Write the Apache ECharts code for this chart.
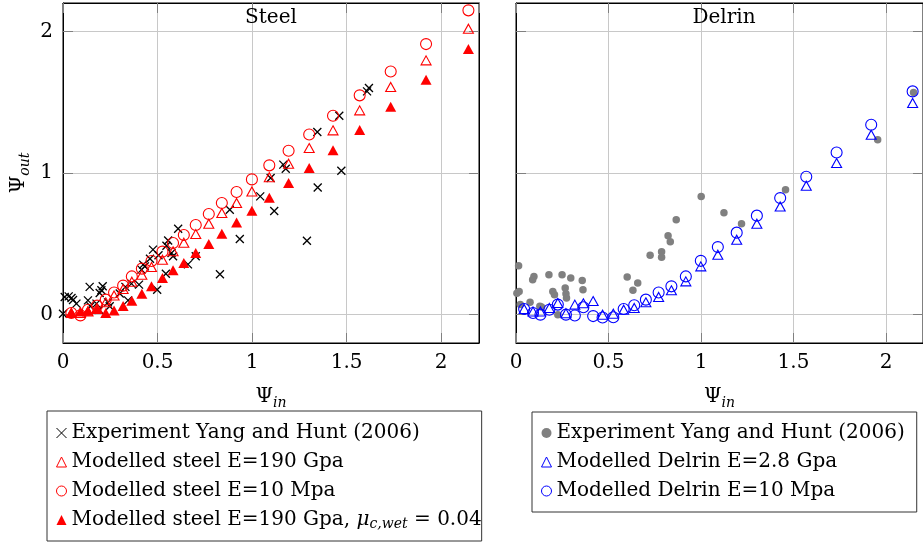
<!DOCTYPE html>
<html>
<head>
<meta charset="utf-8">
<script src="https://cdn.jsdelivr.net/npm/echarts@6/dist/echarts.min.js"></script>
<style>
  html, body { margin: 0; padding: 0; background: #fff; }
  #chart { width: 923px; height: 542px; }
</style>
</head>
<body>
<div id="chart"></div>
<script>
// Psi_in values shared by the modelled series (both materials)
var psiIn = [0.044, 0.092, 0.132, 0.180, 0.226, 0.270, 0.318, 0.364, 0.417, 0.468, 0.526, 0.582, 0.639,
             0.702, 0.771, 0.840, 0.918, 0.999, 1.091, 1.193, 1.302, 1.428, 1.569, 1.733, 1.920, 2.144];

// Steel, modelled
var steelTriY  = [0.012, 0.012, 0.023, 0.047, 0.087, 0.136, 0.181, 0.233, 0.282, 0.336, 0.388, 0.447, 0.508,
                  0.569, 0.642, 0.718, 0.788, 0.870, 0.970, 1.066, 1.176, 1.301, 1.442, 1.607, 1.795, 2.018];
var steelCircY = [0.012, -0.005, 0.035, 0.064, 0.106, 0.157, 0.205, 0.270, 0.325, 0.379, 0.445, 0.506, 0.562,
                  0.633, 0.711, 0.788, 0.866, 0.955, 1.054, 1.157, 1.272, 1.404, 1.548, 1.717, 1.910, 2.148];
var steelWetY  = [0.016, 0.023, 0.028, 0.040, 0.012, 0.030, 0.062, 0.099, 0.148, 0.200, 0.259, 0.313, 0.365,
                  0.435, 0.499, 0.572, 0.651, 0.734, 0.825, 0.929, 1.035, 1.160, 1.303, 1.468, 1.658, 1.875];

// Steel, experiment (Yang and Hunt 2006)
var steelExp = [
  [0.000, 0.007], [0.009, 0.125], [0.030, 0.129], [0.045, 0.118], [0.053, 0.104], [0.071, 0.078],
  [0.132, 0.101], [0.141, 0.196], [0.145, 0.060], [0.177, 0.078], [0.191, 0.035], [0.194, 0.153],
  [0.203, 0.172], [0.210, 0.200], [0.238, 0.087], [0.247, 0.059], [0.300, 0.150], [0.330, 0.196],
  [0.344, 0.101], [0.362, 0.219], [0.402, 0.212], [0.415, 0.318], [0.424, 0.353], [0.433, 0.341],
  [0.460, 0.395], [0.476, 0.459], [0.498, 0.176], [0.505, 0.420], [0.544, 0.289], [0.547, 0.487],
  [0.556, 0.524], [0.574, 0.435], [0.582, 0.412], [0.609, 0.607], [0.661, 0.355], [0.702, 0.412],
  [0.830, 0.285], [0.882, 0.741], [0.935, 0.534], [1.043, 0.835], [1.098, 0.965], [1.117, 0.732],
  [1.165, 1.059], [1.178, 1.030], [1.290, 0.522], [1.347, 0.898], [1.345, 1.289], [1.461, 1.404],
  [1.472, 1.016], [1.608, 1.576], [1.618, 1.600]
];

// Delrin, modelled
var delTriY  = [0.040, 0.023, 0.023, 0.047, 0.083, 0.010, 0.071, 0.080, 0.096, 0.000, 0.007, 0.035, 0.047,
                0.087, 0.125, 0.172, 0.235, 0.341, 0.423, 0.529, 0.642, 0.764, 0.910, 1.070, 1.270, 1.494];
var delCircY = [0.040, 0.012, 0.000, 0.035, 0.071, 0.000, -0.006, 0.052, -0.010, -0.020, -0.018, 0.040, 0.066,
                0.106, 0.157, 0.200, 0.270, 0.380, 0.477, 0.579, 0.699, 0.823, 0.974, 1.145, 1.341, 1.576];

// Delrin, experiment
var delExp = [
  [0.005, 0.152], [0.014, 0.346], [0.017, 0.164], [0.023, 0.071], [0.076, 0.087], [0.090, 0.247],
  [0.097, 0.270], [0.129, 0.059], [0.138, 0.054], [0.178, 0.282], [0.199, 0.164], [0.208, 0.141],
  [0.226, 0.000], [0.249, 0.282], [0.266, 0.188], [0.270, 0.148], [0.273, 0.118], [0.296, 0.259],
  [0.358, 0.242], [0.362, 0.176], [0.601, 0.266], [0.632, 0.172], [0.658, 0.224], [0.725, 0.420],
  [0.787, 0.444], [0.787, 0.406], [0.822, 0.557], [0.834, 0.514], [0.866, 0.670], [1.001, 0.835],
  [1.124, 0.720], [1.219, 0.642], [1.457, 0.882], [1.955, 1.235], [2.149, 1.569]
];

var yTicks = [0, 1, 2];

var FONT = 'DejaVu Serif';
var FS = 20;
var labels = {
  steelExp: 'Experiment Yang and Hunt (2006)',
  steelTri: 'Modelled steel E=190 Gpa',
  steelCirc: 'Modelled steel E=10 Mpa',
  steelWet: 'Modelled steel E=190 Gpa, {it|μ}{sub|c,wet} = 0.04',
  delExp: 'Experiment Yang and Hunt (2006)',
  delTri: 'Modelled Delrin E=2.8 Gpa',
  delCirc: 'Modelled Delrin E=10 Mpa'
};

var rich = {
  psi: { fontFamily: FONT, fontSize: FS, lineHeight: 27, color: '#000' },
  it: { fontFamily: FONT, fontSize: FS, fontStyle: 'italic', color: '#000' },
  sub: { fontFamily: FONT, fontSize: 14, fontStyle: 'italic', lineHeight: 14, verticalAlign: 'bottom', color: '#000' }
};

function zip(xs, ys) {
  return xs.map(function (x, i) { return [x, ys[i]]; });
}

var crossPath = 'path://M0,0L10,10M10,0L0,10';

function xAxes(g) {
  return [{
    gridIndex: g, type: 'value', min: 0, max: 2.2, interval: 0.5, position: 'bottom',
    axisLine: { show: true, onZero: false, lineStyle: { color: '#000', width: 1 } },
    axisTick: { inside: true, length: 10, lineStyle: { color: '#808080' } },
    axisLabel: { margin: 10, fontFamily: FONT, fontSize: FS, color: '#000', showMaxLabel: false },
    splitLine: { show: true, lineStyle: { color: '#c8c8c8', width: 1 } },
    name: '{psi|Ψ}{sub|in}', nameLocation: 'middle', nameGap: 40,
    nameTextStyle: { rich: rich }
  }, {
    gridIndex: g, type: 'value', min: 0, max: 2.2, interval: 0.5, position: 'top',
    axisLine: { show: true, onZero: false, lineStyle: { color: '#000', width: 1 } },
    axisTick: { inside: true, length: 10, lineStyle: { color: '#808080' } },
    axisLabel: { show: false },
    splitLine: { show: false }
  }];
}

function yAxes(g) {
  return [{
    gridIndex: g, type: 'value', min: -0.2, max: 2.2, position: 'left',
    axisLine: { show: true, onZero: false, lineStyle: { color: '#000', width: 1 } },
    axisTick: { inside: true, length: 10, customValues: yTicks, lineStyle: { color: '#808080' } },
    axisLabel: { show: g === 0, customValues: yTicks, margin: 10, fontFamily: FONT, fontSize: FS, color: '#000' },
    splitLine: { show: true, lineStyle: { color: '#c8c8c8', width: 1 } },
    name: g === 0 ? '{psi|Ψ}{sub|out}' : '', nameLocation: 'middle', nameGap: 31,
    nameTextStyle: { rich: rich }
  }, {
    gridIndex: g, type: 'value', min: -0.2, max: 2.2, position: 'right',
    axisLine: { show: true, onZero: false, lineStyle: { color: '#000', width: 1 } },
    axisTick: { inside: true, length: 10, customValues: yTicks, lineStyle: { color: '#808080' } },
    axisLabel: { show: false },
    splitLine: { show: false }
  }];
}

var openRed = { color: 'rgba(0,0,0,0)', borderColor: '#ff0000', borderWidth: 1.1, opacity: 1 };
var openBlue = { color: 'rgba(0,0,0,0)', borderColor: '#0000ff', borderWidth: 1.1, opacity: 1 };

var legendBase = {
  orient: 'vertical', borderColor: '#333', borderWidth: 1,
  itemWidth: 10, itemHeight: 10, itemGap: 7, selectedMode: false,
  itemStyle: { borderWidth: 1 },
  textStyle: { fontFamily: FONT, fontSize: FS, color: '#000', lineHeight: 22, rich: rich },
  formatter: function (name) { return labels[name]; }
};

option = {
  animation: false,
  backgroundColor: '#fff',
  title: [
    { text: 'Steel', left: 271, top: 8, textAlign: 'center', padding: 0,
      textStyle: { fontFamily: FONT, fontSize: FS, fontWeight: 'normal', color: '#000' } },
    { text: 'Delrin', left: 724, top: 8, textAlign: 'center', padding: 0,
      textStyle: { fontFamily: FONT, fontSize: FS, fontWeight: 'normal', color: '#000' } }
  ],
  grid: [
    { left: 63, top: 3, width: 416, height: 340, show: true, borderColor: '#000', borderWidth: 1 },
    { left: 516, top: 3, width: 416, height: 340, show: true, borderColor: '#000', borderWidth: 1 }
  ],
  xAxis: xAxes(0).concat(xAxes(1)),
  yAxis: yAxes(0).concat(yAxes(1)),
  legend: [
    Object.assign({}, legendBase, {
      data: ['steelExp', 'steelTri', 'steelCirc', 'steelWet'],
      left: 47, top: 411, padding: [11, 0, 10, 9]
    }),
    Object.assign({}, legendBase, {
      data: ['delExp', 'delTri', 'delCirc'],
      left: 532, top: 412, padding: [10, 12, 10, 9]
    })
  ],
  series: [
    { name: 'steelExp', type: 'scatter', xAxisIndex: 0, yAxisIndex: 0, symbol: crossPath, symbolSize: 8,
      itemStyle: { color: 'rgba(0,0,0,0)', borderColor: '#000', borderWidth: 1.3, opacity: 1 }, data: steelExp },
    { name: 'steelTri', type: 'scatter', xAxisIndex: 0, yAxisIndex: 0, symbol: 'triangle', symbolSize: [10, 9],
      itemStyle: openRed, data: zip(psiIn, steelTriY) },
    { name: 'steelCirc', type: 'scatter', xAxisIndex: 0, yAxisIndex: 0, symbol: 'circle', symbolSize: 11,
      itemStyle: openRed, data: zip(psiIn, steelCircY) },
    { name: 'steelWet', type: 'scatter', xAxisIndex: 0, yAxisIndex: 0, symbol: 'triangle', symbolSize: [11, 10],
      itemStyle: { color: '#ff0000', opacity: 1 }, data: zip(psiIn, steelWetY) },
    { name: 'delExp', type: 'scatter', xAxisIndex: 2, yAxisIndex: 2, symbol: 'circle', symbolSize: 7.5,
      itemStyle: { color: '#808080', opacity: 1 }, data: delExp },
    { name: 'delTri', type: 'scatter', xAxisIndex: 2, yAxisIndex: 2, symbol: 'triangle', symbolSize: [10, 9],
      itemStyle: openBlue, data: zip(psiIn, delTriY) },
    { name: 'delCirc', type: 'scatter', xAxisIndex: 2, yAxisIndex: 2, symbol: 'circle', symbolSize: 11,
      itemStyle: openBlue, data: zip(psiIn, delCircY) }
  ]
};

var myChart = echarts.init(document.getElementById('chart'));
myChart.setOption(option);
</script>
</body>
</html>
